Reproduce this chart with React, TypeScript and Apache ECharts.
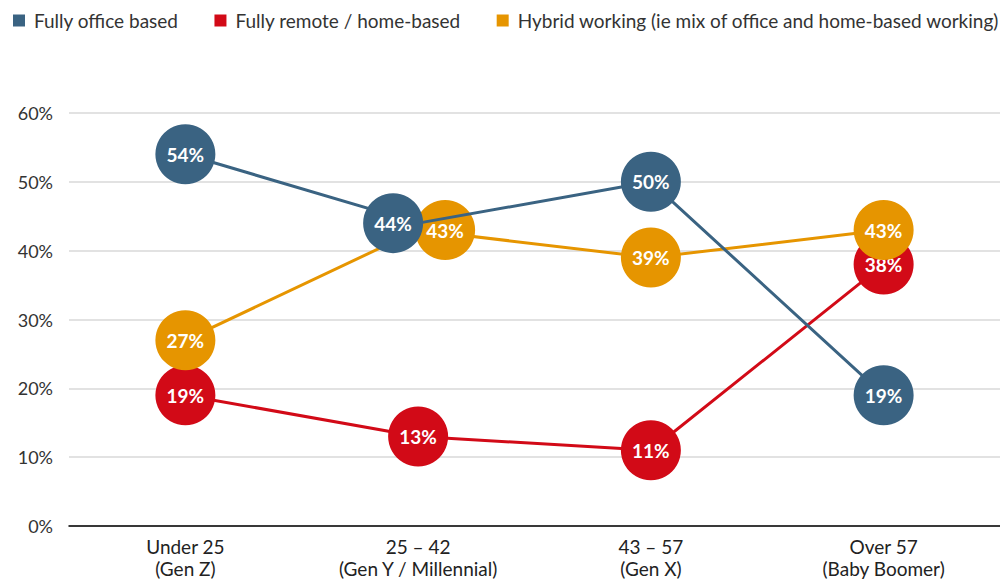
import React, { useEffect, useRef } from "react";
import * as echarts from "echarts";

const categories = [
  "Under 25\n(Gen Z)",
  "25 – 42\n(Gen Y / Millennial)",
  "43 – 57\n(Gen X)",
  "Over 57\n(Baby Boomer)",
];
const seriesNames = [
  "Fully office based",
  "Fully remote / home-based",
  "Hybrid working (ie mix of office and home-based working)",
];
const officeValues = [54, 44, 50, 19];
const remoteValues = [19, 13, 11, 38];
const hybridValues = [27, 43, 39, 43];
const yTicks = [0, 10, 20, 30, 40, 50, 60];

const BLUE = "#3a6382";
const RED = "#d20a17";
const ORANGE = "#e69500";
const FONT = "Lato, 'Noto Sans', sans-serif";

export default function App() {
  const ref = useRef<HTMLDivElement>(null);
  useEffect(() => {
    if (!ref.current) return;
    const chart = echarts.init(ref.current, undefined, { renderer: "svg" });

    const makeSeries = (
      name: string,
      values: number[],
      color: string,
      z: number,
      nudgeIndex: number,
      nudge: number
    ) => ({
      name,
      type: "line",
      z,
      data: values.map((v, i) =>
        i === nudgeIndex ? { value: v, symbolOffset: [nudge, 0] } : v
      ),
      symbol: "circle",
      symbolSize: 60,
      lineStyle: { color, width: 3 },
      itemStyle: { color },
      label: {
        show: true,
        position: "inside",
        formatter: "{c}%",
        color: "#fff",
        fontFamily: FONT,
        fontWeight: "bold",
        fontSize: 19,
      },
      emphasis: { disabled: true },
    });

    chart.setOption({
      animation: false,
      textStyle: { fontFamily: FONT },
      legend: {
        data: seriesNames,
        left: 13,
        top: 11,
        width: 1200,
        itemWidth: 12,
        itemHeight: 12,
        itemGap: 36,
        icon: "rect",
        textStyle: {
          fontFamily: FONT,
          fontSize: 19,
          color: "#333",
          padding: [0, 0, 0, 4],
        },
        padding: 0,
      },
      grid: { left: 69, right: 0, top: 113, bottom: 51 },
      xAxis: {
        type: "category",
        data: categories,
        boundaryGap: true,
        axisLine: { lineStyle: { color: "#000", width: 1.5 } },
        axisTick: { show: false },
        axisLabel: {
          color: "#222",
          fontFamily: FONT,
          fontSize: 19,
          lineHeight: 22,
          margin: 9,
          interval: 0,
        },
      },
      yAxis: {
        type: "value",
        min: yTicks[0],
        max: yTicks[yTicks.length - 1],
        interval: yTicks[1] - yTicks[0],
        axisLine: { show: false },
        axisTick: { show: false },
        splitLine: { lineStyle: { color: "#d9d9d9", width: 1.5 } },
        axisLabel: {
          formatter: "{value}%",
          color: "#333",
          fontFamily: FONT,
          fontSize: 18,
          margin: 16,
        },
      },
      series: [
        makeSeries(seriesNames[0], officeValues, BLUE, 4, 1, -25),
        makeSeries(seriesNames[1], remoteValues, RED, 2, -1, 0),
        makeSeries(seriesNames[2], hybridValues, ORANGE, 3, 1, 27),
      ],
    });
    return () => chart.dispose();
  }, []);

  return (
    <div
      ref={ref}
      style={{
        position: "fixed",
        left: 0,
        top: 0,
        width: 1000,
        height: 579,
        background: "#fff",
      }}
    />
  );
}
